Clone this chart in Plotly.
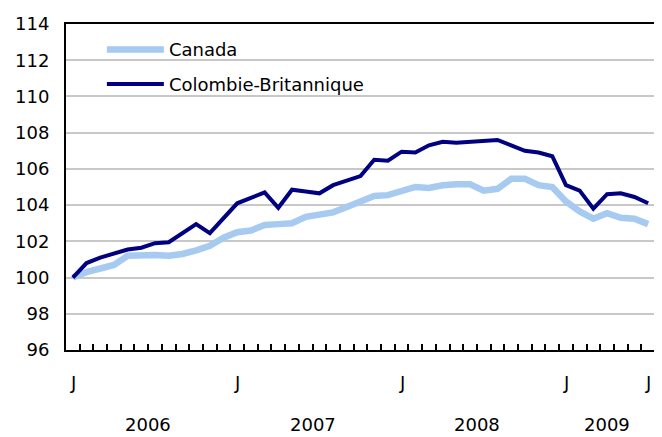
import plotly.graph_objects as go

months = list(range(43))  # Jan 2006 .. Jul 2009
canada = [100.0, 100.3, 100.5, 100.7, 101.2, 101.25, 101.25, 101.2, 101.3, 101.5,
          101.75, 102.2, 102.5, 102.6, 102.9, 102.95, 103.0, 103.35, 103.5, 103.6,
          103.9, 104.2, 104.5, 104.55, 104.8, 105.0, 104.95, 105.1, 105.15, 105.15,
          104.8, 104.9, 105.45, 105.45, 105.1, 105.0, 104.2, 103.65, 103.25, 103.55,
          103.3, 103.25, 102.95]
cb = [100.0, 100.8, 101.1, 101.35, 101.55, 101.65, 101.9, 101.95, 102.45, 102.95,
      102.45, 103.25, 104.1, 104.4, 104.7, 103.85, 104.85, 104.75, 104.65, 105.1,
      105.35, 105.6, 106.5, 106.45, 106.95, 106.9, 107.3, 107.5, 107.45, 107.5,
      107.55, 107.6, 107.3, 107.0, 106.9, 106.7, 105.1, 104.8, 103.8, 104.6,
      104.65, 104.45, 104.1]
month_label_pos = [0, 12, 24, 36, 42]
month_labels = ["J", "J", "J", "J", "J"]
year_pos = [5.5, 17.5, 29.5, 39]
year_labels = ["2006", "2007", "2008", "2009"]

FONT = "DejaVu Sans, Arial, sans-serif"
FS = 18

fig = go.Figure()
fig.add_trace(go.Scatter(x=months, y=canada, mode="lines", name="Canada",
                         line=dict(color="#a6caf0", width=6.5), legend="legend"))
fig.add_trace(go.Scatter(x=months, y=cb, mode="lines", name="Colombie-Britannique",
                         line=dict(color="#000080", width=4), legend="legend2"))

# page has an 8px body margin: figure is shifted by (8, 8)
OFF = 8
W, H = 662 - OFF, 437 - OFF
PL, PR, PT, PB = 66, 657, 20, 350   # plot area in reference pixels
L, R, T, B = PL - OFF, W - (PR - OFF), PT - OFF, H - (PB - OFF)
pw = PR - PL
ph = PB - PT

def py(px):
    return (PB - px) / ph

def px_(x):
    return (x - PL) / pw

fig.update_layout(
    width=W, height=H,
    margin=dict(l=L, r=R, t=T, b=B),
    paper_bgcolor="white", plot_bgcolor="white",
    font=dict(family=FONT, size=FS, color="black"),
    showlegend=True,
    legend=dict(x=px_(102), y=py(46), xanchor="left", yanchor="middle",
                bgcolor="rgba(0,0,0,0)", font=dict(size=FS), itemwidth=57),
    legend2=dict(x=px_(102), y=py(81), xanchor="left", yanchor="middle",
                 bgcolor="rgba(0,0,0,0)", font=dict(size=FS), itemwidth=57),
    xaxis=dict(range=[-0.5, 42.5], showgrid=False, zeroline=False,
               tickmode="array", tickvals=[i - 0.5 for i in range(44)],
               ticktext=[""] * 44, ticks="inside", ticklen=6, tickwidth=1.5,
               tickcolor="black", showline=True, linecolor="black", linewidth=2,
               mirror=True),
    yaxis=dict(range=[96, 114], dtick=2, tick0=96, showgrid=True,
               gridcolor="#c8c8c8", gridwidth=2, zeroline=False,
               showline=True, linecolor="black", linewidth=2, mirror=True,
               ticks="", ticklabelstandoff=11, tickfont=dict(size=FS)),
    shapes=[dict(type="rect", xref="paper", yref="paper",
                 x0=px_(88), x1=px_(392), y0=py(100), y1=py(30),
                 fillcolor="white", line=dict(width=0), layer="between")],
)

anns = []
for p, t in zip(month_label_pos, month_labels):
    anns.append(dict(x=p, y=py(383), xref="x", yref="paper", text=t, showarrow=False,
                     xanchor="center", yanchor="middle", font=dict(size=FS)))
for p, t in zip(year_pos, year_labels):
    anns.append(dict(x=p, y=py(425), xref="x", yref="paper", text=t, showarrow=False,
                     xanchor="center", yanchor="middle", font=dict(size=FS)))
fig.update_layout(annotations=anns)

fig.write_html("out.html")
